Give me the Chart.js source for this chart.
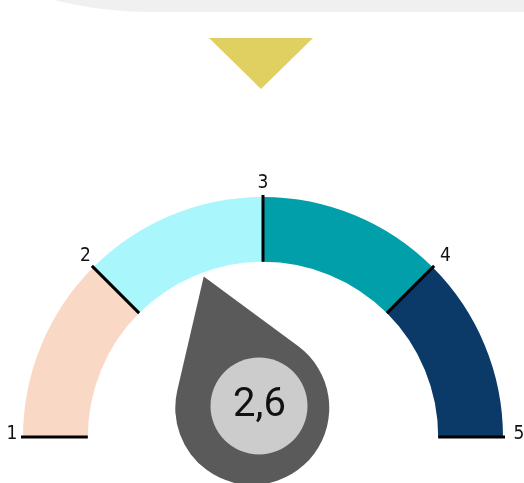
<!DOCTYPE html>
<html>
<head>
<meta charset="utf-8">
<script src="https://cdn.jsdelivr.net/npm/chart.js@4.4.1/dist/chart.umd.min.js"></script>
<style>
    html, body { margin: 0; padding: 0; background: #fff; }
    #wrap { position: relative; width: 524px; height: 483px; overflow: hidden; }
    /* grauer Rahmen oben (Teil des Dashboards) */
    .panel {
        position: absolute; left: -240px; top: -400px;
        width: 900px; height: 412px;
        background: #f0f0f0;
        border-bottom-left-radius: 390px;
    }
    /* gelber Pfeil */
    .arrow {
        position: absolute; left: 209px; top: 38px;
        width: 0; height: 0;
        border-left: 52px solid transparent;
        border-right: 52px solid transparent;
        border-top: 51px solid #e0cf61;
    }
    #gauge { position: absolute; left: 0; top: 0; }
</style>
</head>
<body>
<div id="wrap">
    <div class="panel"></div>
    <div class="arrow"></div>
    <canvas id="gauge" width="524" height="483"></canvas>
</div>
<script>
// Skala und Werte
const bandEdges = [1, 2, 3, 4, 5];
const bandColors = ['#f9d9c6', '#aaf6fd', '#009faa', '#0b3a69'];
const tickLabels = ['1', '2', '3', '4', '5'];
const needleValue = 2.55;
const valueText = '2,6';

const bandSizes = bandEdges.slice(1).map((v, i) => v - bandEdges[i]);

// Ticks, Beschriftung und Zeiger
const gaugeExtras = {
    id: 'gaugeExtras',
    afterDatasetsDraw(chart) {
        const arcs = chart.getDatasetMeta(0).data;
        if (!arcs.length) return;
        const first = arcs[0];
        const last = arcs[arcs.length - 1];
        const { x, y, innerRadius, outerRadius } = first;
        const start = first.startAngle;
        const end = last.endAngle;
        const min = bandEdges[0];
        const max = bandEdges[bandEdges.length - 1];
        const toAngle = v => start + (v - min) / (max - min) * (end - start);
        const ctx = chart.ctx;

        ctx.save();

        // Teilstriche + Zahlen
        ctx.strokeStyle = '#000';
        ctx.lineWidth = 3;
        ctx.fillStyle = '#111';
        ctx.font = '19px "Liberation Sans Narrow", "DejaVu Sans Condensed", sans-serif';
        ctx.textAlign = 'center';
        ctx.textBaseline = 'middle';
        bandEdges.forEach((v, i) => {
            const a = toAngle(v);
            const c = Math.cos(a), s = Math.sin(a);
            ctx.beginPath();
            ctx.moveTo(x + c * innerRadius, y + s * innerRadius);
            ctx.lineTo(x + c * (outerRadius + 2), y + s * (outerRadius + 2));
            ctx.stroke();
            const r = outerRadius + 11;
            const shift = c > 0.1 ? 5 : 0;
            ctx.fillText(tickLabels[i], x + c * r + shift, y + s * r - 3);
        });

        // Zeiger (Tropfenform)
        const a = toAngle(needleValue);
        const c = Math.cos(a), s = Math.sin(a);
        const hubR = 77;
        const cx = x + c * 31, cy = y + s * 31;
        const tipR = innerRadius - 4;
        const d = tipR - 31;
        const alpha = Math.acos(hubR / d);
        ctx.fillStyle = '#5a5a5a';
        ctx.beginPath();
        ctx.moveTo(x + c * tipR, y + s * tipR);
        ctx.arc(cx, cy, hubR, a + alpha, a - alpha + Math.PI * 2);
        ctx.closePath();
        ctx.fill();

        // Wert-Kreis
        ctx.fillStyle = '#cccccc';
        ctx.beginPath();
        ctx.arc(x - 4, y - 31, 48.5, 0, Math.PI * 2);
        ctx.fill();

        ctx.fillStyle = '#111';
        ctx.font = '40px Roboto, sans-serif';
        ctx.textAlign = 'center';
        ctx.textBaseline = 'middle';
        ctx.fillText(valueText, x - 3.5, y - 31);

        ctx.restore();
    }
};

new Chart(document.getElementById('gauge').getContext('2d'), {
    type: 'doughnut',
    data: {
        labels: tickLabels.slice(1),
        datasets: [{
            data: bandSizes,
            backgroundColor: bandColors,
            borderWidth: 0
        }]
    },
    options: {
        responsive: false,
        devicePixelRatio: 1,
        animation: false,
        events: [],
        rotation: -90,
        circumference: 180,
        cutout: '73%',
        layout: {
            padding: { left: 22, right: 20, top: 197, bottom: 46 }
        },
        plugins: {
            legend: { display: false },
            tooltip: { enabled: false }
        }
    },
    plugins: [gaugeExtras]
});
</script>
</body>
</html>
